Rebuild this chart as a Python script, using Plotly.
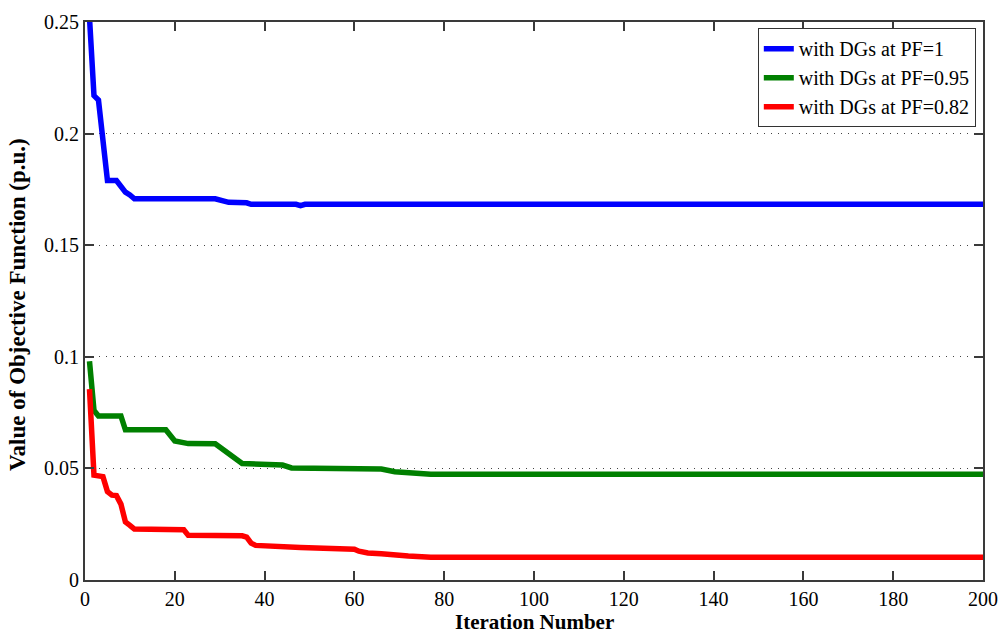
import plotly.graph_objects as go

# Iteration breakpoints and objective values
blue_x = [1, 2, 3, 4, 5, 7, 8, 9, 10, 11, 29, 31, 32, 36, 37, 47, 48, 49, 55, 56, 57, 70, 71, 72, 88, 89, 90, 107, 108, 109, 200]
blue_y = [0.252, 0.217, 0.215, 0.199, 0.179, 0.179, 0.176, 0.1738, 0.1725, 0.1708, 0.1708, 0.1697, 0.1692, 0.169, 0.1683,
          0.1683, 0.1677, 0.1683, 0.1683, 0.1677, 0.1683, 0.1683, 0.1677, 0.1683, 0.1683, 0.1677, 0.1683, 0.1683, 0.1678, 0.1683, 0.1683]

green_x = [1, 2, 3, 8, 9, 18, 20, 23, 29, 30, 32, 35, 44, 46, 66, 69, 77, 200]
green_y = [0.098, 0.076, 0.0735, 0.0735, 0.0673, 0.0673, 0.0623, 0.0611, 0.061, 0.0595, 0.0563, 0.0522, 0.0515, 0.0502,
           0.0497, 0.0485, 0.0474, 0.0474]

red_x = [1, 2, 4, 5, 6, 7, 8, 9, 10, 11, 22, 23, 35, 36, 37, 38, 48, 60, 61, 63, 66, 69, 72, 77, 200]
red_y = [0.0855, 0.047, 0.0463, 0.0396, 0.038, 0.0378, 0.034, 0.026, 0.0245, 0.0228, 0.0225, 0.020, 0.0198, 0.0192,
         0.0165, 0.0155, 0.0146, 0.0138, 0.0129, 0.0121, 0.0118, 0.0111, 0.0108, 0.0102, 0.0102]

series_names = ["with DGs at PF=1", "with DGs at PF=0.95", "with DGs at PF=0.82"]
series_colors = ["#0000FF", "#008000", "#FF0000"]

x_ticks = [0, 20, 40, 60, 80, 100, 120, 140, 160, 180, 200]
y_ticks = [0, 0.05, 0.1, 0.15, 0.2, 0.25]
y_tick_labels = ["0", "0.05", "0.1", "0.15", "0.2", "0.25"]

x_title = "Iteration Number"
y_title = "Value of Objective Function (p.u.)"

fig = go.Figure()
for xs, ys, name, color in zip([blue_x, green_x, red_x], [blue_y, green_y, red_y], series_names, series_colors):
    fig.add_trace(go.Scatter(x=xs, y=ys, mode="lines", name=name,
                             line=dict(color=color, width=5.5)))

axis_common = dict(showline=True, linecolor="#3a3a3a", linewidth=2, mirror="ticks",
                   ticks="inside", ticklen=9, tickcolor="#3a3a3a", tickwidth=1.5,
                   tickfont=dict(family="Liberation Serif", size=20, color="black"),
                   zeroline=False, automargin=False)

fig.update_xaxes(range=[0, 200], tickvals=x_ticks, showgrid=False, **axis_common)
fig.update_yaxes(range=[0, 0.25], tickvals=y_ticks, ticktext=y_tick_labels,
                 showgrid=True, gridcolor="#444444", griddash="1px,6px", gridwidth=1.2,
                 **axis_common)

fig.add_annotation(text=f"<b>{x_title}</b>", xref="paper", yref="paper", x=0.5, y=-0.0995,
                   xanchor="center", yanchor="bottom", showarrow=False,
                   font=dict(family="Liberation Serif", size=21, color="black"))
fig.add_annotation(text=f"<b>{y_title}</b>", xref="paper", yref="paper", x=-0.0746, y=0.493,
                   xanchor="center", yanchor="middle", textangle=-90, showarrow=False,
                   font=dict(family="Liberation Serif", size=23, color="black"))

fig.update_layout(
    width=1001, height=636,
    margin=dict(l=85, r=18, t=22, b=56),
    paper_bgcolor="white", plot_bgcolor="white",
    showlegend=True,
    legend=dict(x=0.992, xanchor="right", y=0.989, yanchor="top",
                bgcolor="white", bordercolor="#333333", borderwidth=1,
                font=dict(family="Liberation Serif", size=20, color="black"),
                tracegroupgap=0),
)

fig.write_html("out.html")
